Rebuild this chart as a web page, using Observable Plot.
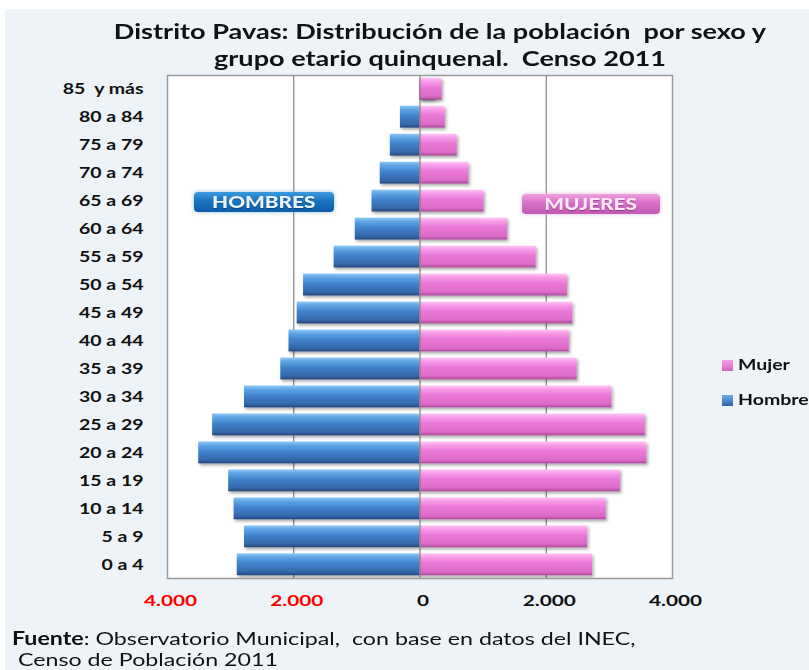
<!DOCTYPE html>
<html><head><meta charset="utf-8">
<script src="https://cdn.jsdelivr.net/npm/d3@7"></script>
<script src="https://cdn.jsdelivr.net/npm/@observablehq/plot@0.6"></script>
<style>
body{margin:0;background:#fff;font-family:Lato,"Open Sans",sans-serif;}
#wrap{position:relative;width:809px;height:670px;overflow:hidden;}
#panel{position:absolute;left:5px;top:9px;right:0;bottom:0;background:#eef3f8;}
#chart{position:absolute;left:0;top:0;line-height:0;}
.title{position:absolute;left:40px;width:800px;text-align:center;font-weight:bold;font-size:21px;line-height:27px;color:#111;white-space:pre;transform:scaleX(1.29);transform-origin:400px 0;}
.badge{position:absolute;height:20px;border-radius:4px;text-align:center;line-height:20px;}
.badge b{display:inline-block;font-weight:900;font-size:16px;transform:scaleX(1.3);text-shadow:0 1px 1px rgba(0,0,0,0.35);}
.leg{position:absolute;left:722px;font-weight:bold;font-size:15px;color:#111;white-space:nowrap;}
.leg span{display:inline-block;width:11px;height:11px;margin-right:5px;vertical-align:-1px;}
.leg i{font-style:normal;display:inline-block;transform:scaleX(1.3);transform-origin:0 0;}
.foot{position:absolute;left:12px;font-size:18px;line-height:22px;color:#111;white-space:pre;transform:scaleX(1.29);transform-origin:0 0;}
</style></head><body>
<div id="wrap">
<div id="panel"></div>
<div id="chart"></div>
<div class="title" style="top:17px">Distrito Pavas: Distribución de la población  por sexo y</div>
<div class="title" style="top:44px">grupo etario quinquenal.  Censo 2011</div>
<div class="badge" style="left:194px;top:192px;width:140px;color:#eaf4ff;background:linear-gradient(#3a9ae0,#1a74c0 45%,#0c5ea8);box-shadow:0 0 4px #9bc"><b>HOMBRES</b></div>
<div class="badge" style="left:522px;top:194px;width:138px;color:#fbe6f8;background:linear-gradient(#eea0e2,#d970c8 45%,#c25ab2);box-shadow:0 0 4px #dbd"><b>MUJERES</b></div>
<div class="leg" style="top:355px"><span style="background:linear-gradient(#f7a0ea,#d462c0)"></span><i>Mujer</i></div>
<div class="leg" style="top:390px"><span style="background:linear-gradient(#6aaeea,#2f64a8)"></span><i>Hombre</i></div>
<div class="foot" style="top:627px"><b>Fuente</b>: Observatorio Municipal,  con base en datos del INEC,</div>
<div class="foot" style="top:648px"> Censo de Población 2011</div>
</div>
<script>
const ages = ["85  y más","80 a 84","75 a 79","70 a 74","65 a 69","60 a 64","55 a 59","50 a 54","45 a 49","40 a 44","35 a 39","30 a 34","25 a 29","20 a 24","15 a 19","10 a 14","5 a 9","0 a 4"];
const hombres = [240,-310,-470,-630,-760,-1025,-1360,-1845,-1945,-2075,-2205,-2780,-3285,-3505,-3030,-2945,-2780,-2895];
const mujeres = [350,400,590,775,1015,1385,1840,2335,2420,2365,2490,3040,3570,3595,3175,2950,2655,2735];
const xTicks = [-4000,-2000,0,2000,4000];
const grid = [-2000,2000];

const dataH = ages.map((a,i)=>({age:a, v:hombres[i]}));
const dataM = ages.map((a,i)=>({age:a, v:mujeres[i]}));
const fmt = d => d3.format(",")(Math.abs(d)).replace(/,/g,".");
const ML = 167;

const svg = Plot.plot({
  width:809, height:670,
  marginLeft:ML, marginRight:137, marginTop:75, marginBottom:92,
  style:{background:"transparent", fontFamily:"Lato, 'Open Sans', sans-serif"},
  x:{domain:[-4000,4000], axis:null},
  y:{domain:ages, paddingInner:0.22, paddingOuter:0.1, round:false, axis:null},
  marks:[
    Plot.frame({fill:"white", stroke:"none"}),
    Plot.ruleX(grid, {stroke:"#7f7f7f", strokeWidth:1.2}),
    Plot.barX(dataH, {x:"v", y:"age", fill:"url(#gH)"}),
    Plot.barX(dataM, {x:"v", y:"age", fill:"url(#gM)"}),
    Plot.ruleX([0], {stroke:"#7f7f7f", strokeWidth:1.2}),
    Plot.frame({stroke:"#9a9a9a", strokeWidth:1.5}),
    Plot.text(ages, {y:d=>d, frameAnchor:"left", textAnchor:"end", dx:-24, text:d=>d, fill:"#111", fontSize:15, fontWeight:"bold"}),
    Plot.text(xTicks, {x:d=>d, frameAnchor:"bottom", dy:27, dx:3, text:fmt, fill:d=>d<0?"#ff0000":"#111", fontSize:16, fontWeight:"bold"})
  ]
});

const defs = d3.select(svg).insert("defs", ":first-child");
const gH = defs.append("linearGradient").attr("id","gH").attr("x1",0).attr("y1",0).attr("x2",0).attr("y2",1);
[["0%","#8cc8f6"],["18%","#5ea4e6"],["45%","#4283cc"],["85%","#3567aa"],["100%","#23477c"]].forEach(([o,c])=>gH.append("stop").attr("offset",o).attr("stop-color",c));
const gM = defs.append("linearGradient").attr("id","gM").attr("x1",0).attr("y1",0).attr("x2",0).attr("y2",1);
[["0%","#ffc4f6"],["18%","#f79ae8"],["45%","#ea78d6"],["85%","#dc6ac6"],["100%","#a9489a"]].forEach(([o,c])=>gM.append("stop").attr("offset",o).attr("stop-color",c));
const f = defs.append("filter").attr("id","sh").attr("x","-10%").attr("y","-20%").attr("width","130%").attr("height","160%");
f.append("feDropShadow").attr("dx",1.5).attr("dy",2).attr("stdDeviation",1.5).attr("flood-opacity",0.35);
d3.select(svg).selectAll("g[aria-label='bar']").attr("filter","url(#sh)");

// horizontal stretch of the labels, as in the reference
const textGroups = svg.querySelectorAll("g[aria-label='text']");
// age labels share one anchor (frame's left edge): stretch the whole group around it
if (textGroups[0]) {
  const t = textGroups[0].getAttribute("transform") || "";
  textGroups[0].setAttribute("transform", `${t} translate(${ML},0) scale(1.3,1) translate(${-ML},0)`);
}
// x tick labels: stretch each around its own anchor
if (textGroups[1]) {
  textGroups[1].querySelectorAll("text").forEach(function(el){
    const t = el.getAttribute("transform") || "";
    const x = +(el.getAttribute("x") || 0), y = +(el.getAttribute("y") || 0);
    el.removeAttribute("x"); el.removeAttribute("y");
    el.setAttribute("transform", `${t} translate(${x},${y}) scale(1.3,1)`);
  });
}

document.getElementById("chart").appendChild(svg);
</script>
</body></html>
